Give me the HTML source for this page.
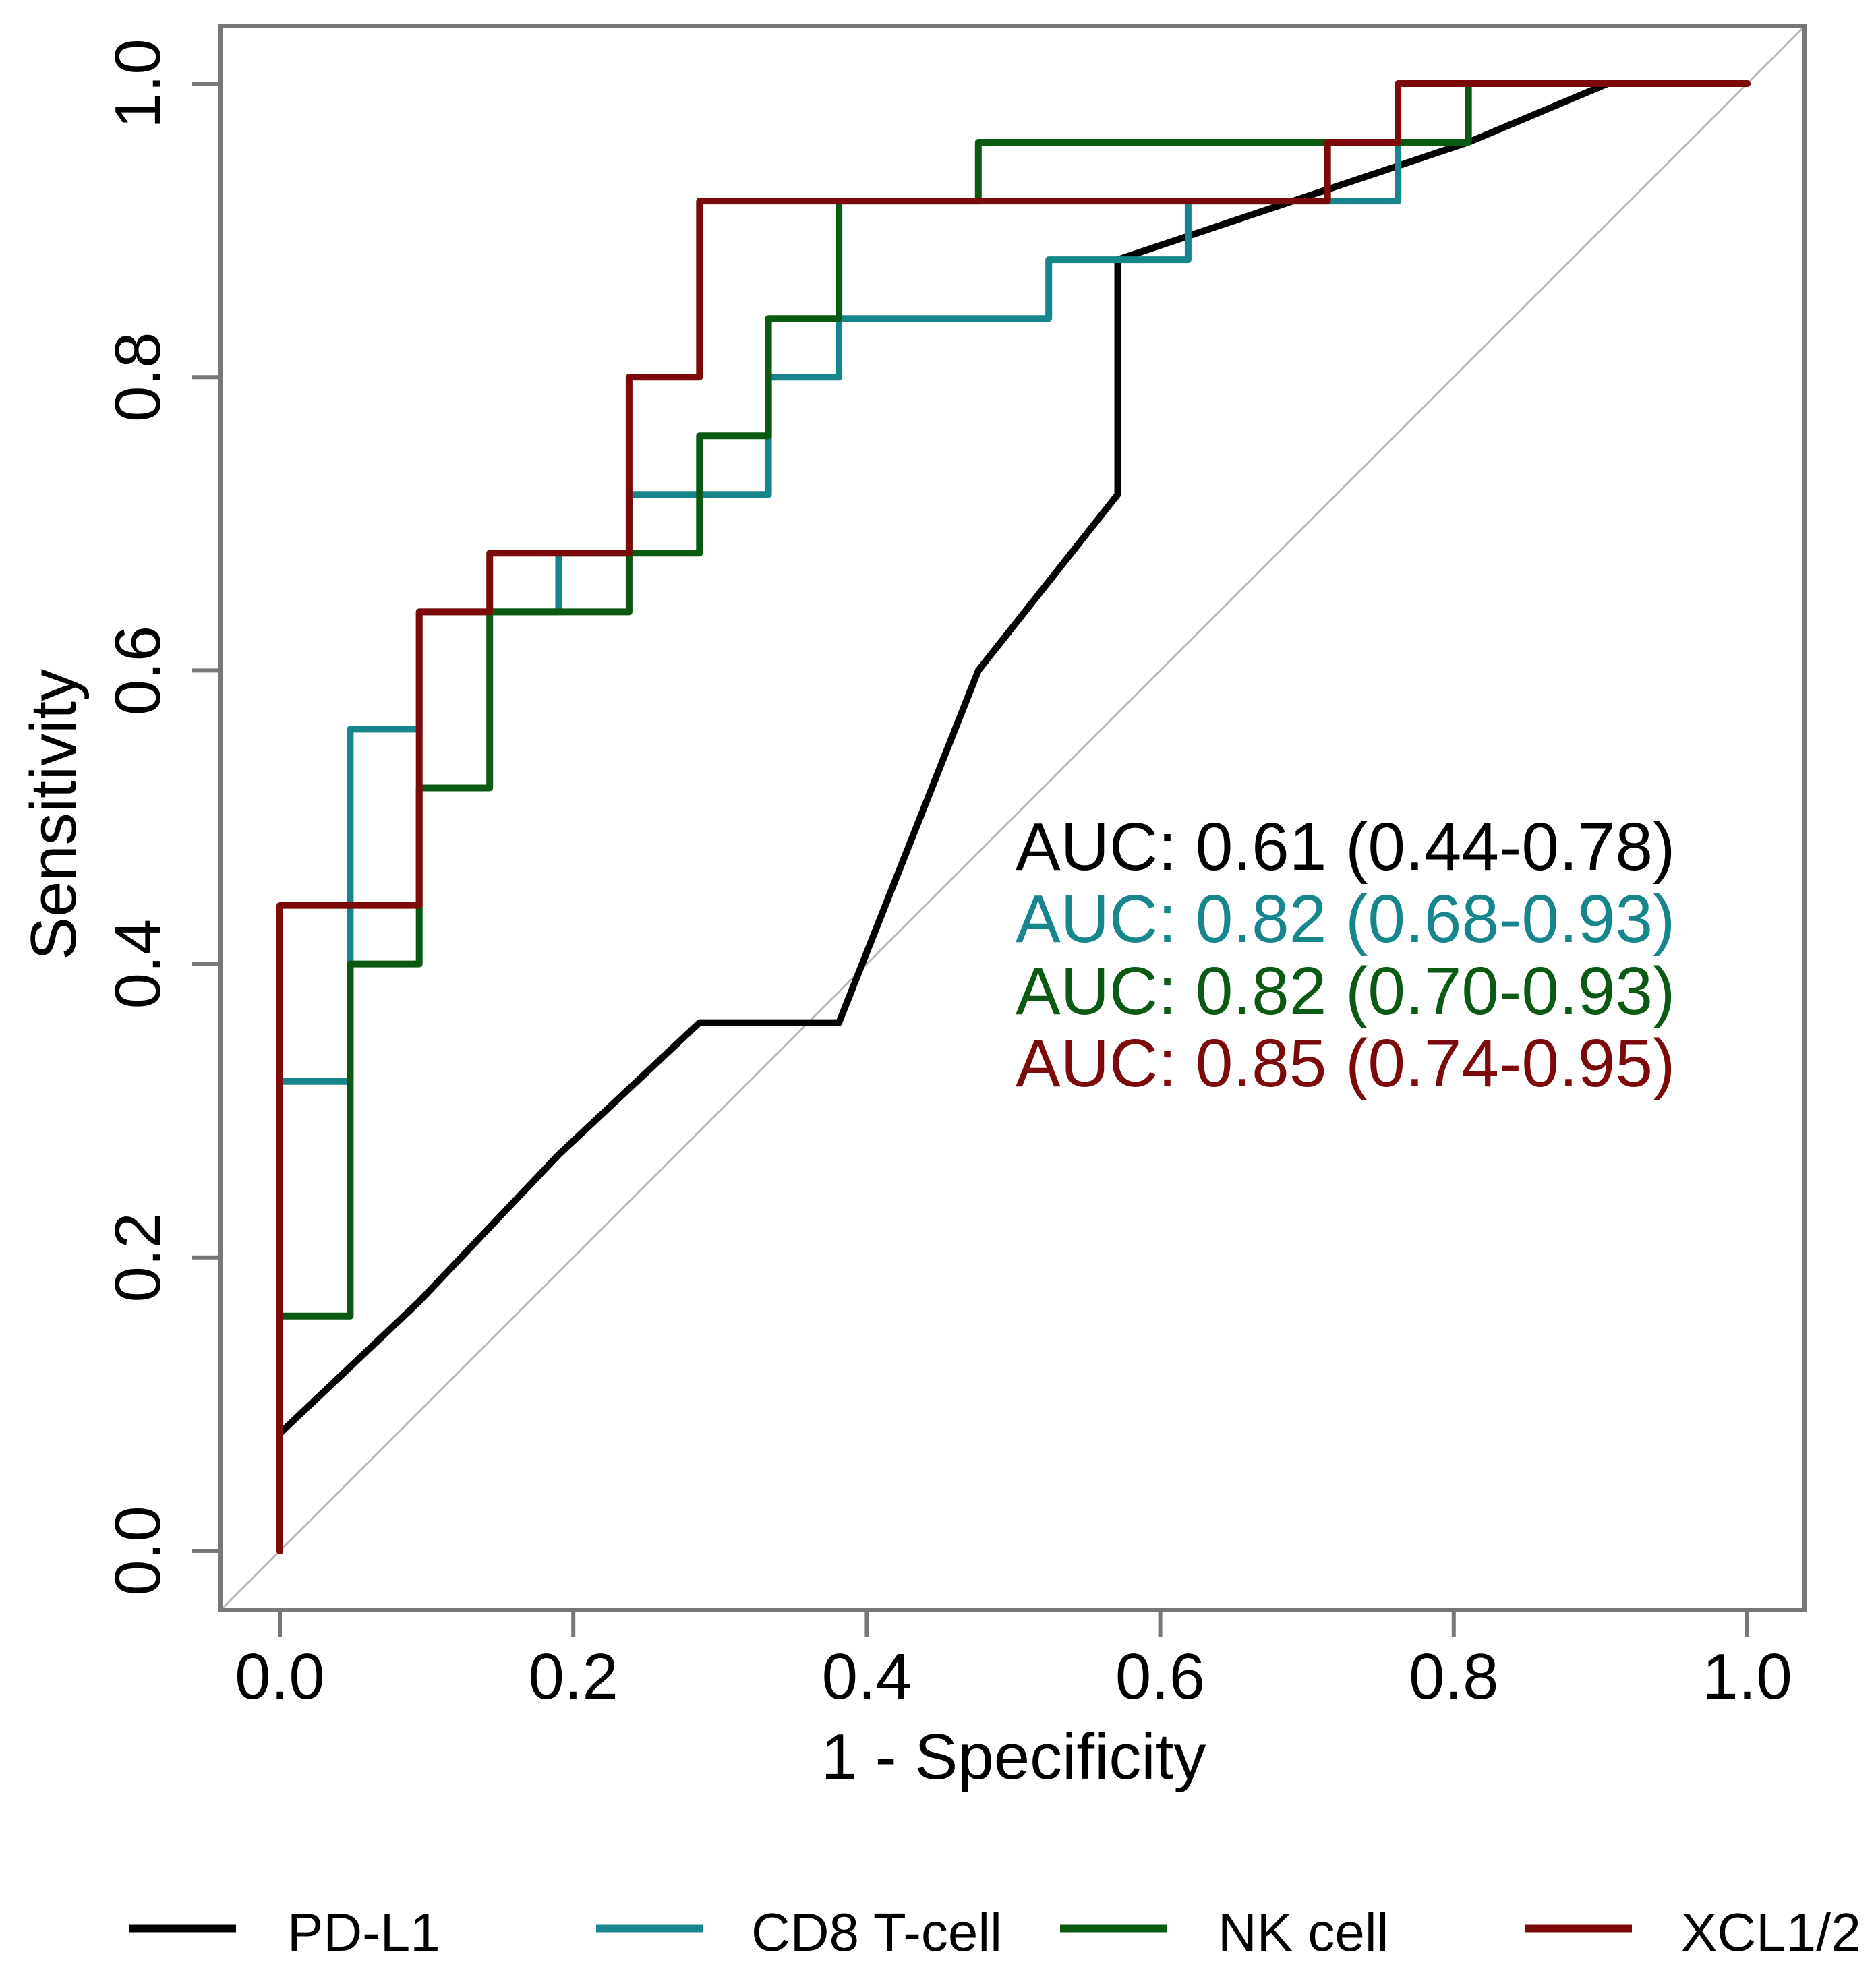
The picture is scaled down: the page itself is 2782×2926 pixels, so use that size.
<!DOCTYPE html>
<html><head><meta charset="utf-8"><style>
html,body{margin:0;padding:0;background:#fff}
svg{display:block}
text{font-family:"Liberation Sans",Arial,sans-serif}
</style></head><body>
<svg id="chart" width="2782" height="2926" viewBox="0 0 2782 2926" xmlns="http://www.w3.org/2000/svg">
<defs><clipPath id="boxclip"><rect x="327" y="38" width="2349" height="2350"/></clipPath></defs>
<rect x="0" y="0" width="2782" height="2926" fill="#fff"/>
<g id="plot"></g>
<g id="axes"></g>
<g id="legend"></g>
</svg>
<script>
const xTicks = [0, 0.2, 0.4, 0.6, 0.8, 1.0];
const xTickLabels = ["0.0","0.2","0.4","0.6","0.8","1.0"];
const yTicks = [0, 0.2, 0.4, 0.6, 0.8, 1.0];
const yTickLabels = ["0.0","0.2","0.4","0.6","0.8","1.0"];
const seriesNames = ["PD-L1","CD8 T-cell","NK cell","XCL1/2"];
const seriesColors = ["#000000","#16868c","#0b5a14","#7d0a0a"];
const aucLabels = ["AUC: 0.61 (0.44-0.78)","AUC: 0.82 (0.68-0.93)","AUC: 0.82 (0.70-0.93)","AUC: 0.85 (0.74-0.95)"];
const pdl1FPR = [0, 0, 0.095, 0.19, 0.286, 0.381, 0.476, 0.571, 0.571, 0.81, 0.905, 1];
const pdl1TPR = [0, 0.08, 0.17, 0.27, 0.36, 0.36, 0.60, 0.72, 0.88, 0.96, 1, 1];
const cd8FPR = [0, 0, 0.048, 0.048, 0.095, 0.095, 0.19, 0.19, 0.238, 0.238, 0.333, 0.333, 0.381, 0.381, 0.524, 0.524, 0.619, 0.619, 0.762, 0.762, 0.81, 0.81, 1];
const cd8TPR = [0, 0.32, 0.32, 0.56, 0.56, 0.64, 0.64, 0.68, 0.68, 0.72, 0.72, 0.80, 0.80, 0.84, 0.84, 0.88, 0.88, 0.92, 0.92, 0.96, 0.96, 1, 1];
const nkFPR = [0, 0, 0.048, 0.048, 0.095, 0.095, 0.143, 0.143, 0.238, 0.238, 0.286, 0.286, 0.333, 0.333, 0.381, 0.381, 0.476, 0.476, 0.81, 0.81, 1];
const nkTPR = [0, 0.16, 0.16, 0.40, 0.40, 0.52, 0.52, 0.64, 0.64, 0.68, 0.68, 0.76, 0.76, 0.84, 0.84, 0.92, 0.92, 0.96, 0.96, 1, 1];
const xclFPR = [0, 0, 0.095, 0.095, 0.143, 0.143, 0.238, 0.238, 0.286, 0.286, 0.714, 0.714, 0.762, 0.762, 1];
const xclTPR = [0, 0.44, 0.44, 0.64, 0.64, 0.68, 0.68, 0.80, 0.80, 0.92, 0.92, 0.96, 0.96, 1, 1];

const NS = "http://www.w3.org/2000/svg";
const X0 = 415, X1 = 2591, Y0 = 2300, Y1 = 124;
function sx(v){ return X0 + v * (X1 - X0); }
function sy(v){ return Y0 - v * (Y0 - Y1); }
function mk(tag, attrs, parent){
  const el = document.createElementNS(NS, tag);
  for (const k in attrs) el.setAttribute(k, attrs[k]);
  parent.appendChild(el);
  return el;
}
const plot = document.getElementById('plot');
const axes = document.getElementById('axes');
const legend = document.getElementById('legend');

const diag = mk('line', {x1: sx(-0.1), y1: sy(-0.1), x2: sx(1.1), y2: sy(1.1), stroke: '#b8b8b8', 'stroke-width': 3, 'clip-path': 'url(#boxclip)'}, plot);



const allF = [pdl1FPR, cd8FPR, nkFPR, xclFPR];
const allT = [pdl1TPR, cd8TPR, nkTPR, xclTPR];
const curveNames = ['pdl1-roc-curve','cd8-roc-curve','nk-roc-curve','xcl-roc-curve'];
for (let s = 0; s < 4; s++) {
  const f = allF[s], t = allT[s];
  let d = '';
  for (let i = 0; i < f.length; i++) d += (i ? 'L' : 'M') + sx(f[i]).toFixed(1) + ' ' + sy(t[i]).toFixed(1);
  const p = mk('path', {d: d, fill: 'none', stroke: seriesColors[s], 'stroke-width': 10, 'stroke-linejoin': 'round', 'stroke-linecap': 'round'}, plot);
  
  
}

for (let s = 0; s < 4; s++) {
  const tx = mk('text', {x: 1506, y: 1290 + s * 107, 'font-size': 100, fill: seriesColors[s]}, plot);
  tx.textContent = aucLabels[s];
  
  
}

const box = mk('rect', {x: 327, y: 38, width: 2349, height: 2350, fill: 'none', stroke: '#777', 'stroke-width': 6}, axes);



for (let i = 0; i < xTicks.length; i++) {
  const tk = mk('line', {x1: sx(xTicks[i]), y1: 2388, x2: sx(xTicks[i]), y2: 2428, stroke: '#777', 'stroke-width': 6}, axes);
  
  
  const lb = mk('text', {x: sx(xTicks[i]), y: 2519, 'font-size': 96, 'text-anchor': 'middle', fill: '#000'}, axes);
  lb.textContent = xTickLabels[i];
  
  
}
for (let i = 0; i < yTicks.length; i++) {
  const tk = mk('line', {x1: 285, y1: sy(yTicks[i]), x2: 327, y2: sy(yTicks[i]), stroke: '#777', 'stroke-width': 6}, axes);
  
  
  const yy = sy(yTicks[i]);
  const lb = mk('text', {x: 237, y: yy, 'font-size': 96, 'text-anchor': 'middle', fill: '#000', transform: 'rotate(-90 237 ' + yy + ')'}, axes);
  lb.textContent = yTickLabels[i];
  
  
}
const xt = mk('text', {x: 1503, y: 2638, 'font-size': 96, 'text-anchor': 'middle', fill: '#000'}, axes);
xt.textContent = '1 - Specificity';


const yt = mk('text', {x: 112, y: 1208, 'font-size': 96, 'text-anchor': 'middle', fill: '#000', transform: 'rotate(-90 112 1208)'}, axes);
yt.textContent = 'Sensitivity';



const legLineX = [192, 884, 1572, 2262];
const legTextX = [426, 1114, 1806, 2493];
for (let s = 0; s < 4; s++) {
  const g = mk('g', {}, legend);
  
  
  mk('line', {x1: legLineX[s], y1: 2860, x2: legLineX[s] + 158, y2: 2860, stroke: seriesColors[s], 'stroke-width': 11}, g);
  const t = mk('text', {x: legTextX[s], y: 2893, 'font-size': 80, fill: '#000'}, g);
  t.textContent = seriesNames[s];
}
</script>
</body></html>
